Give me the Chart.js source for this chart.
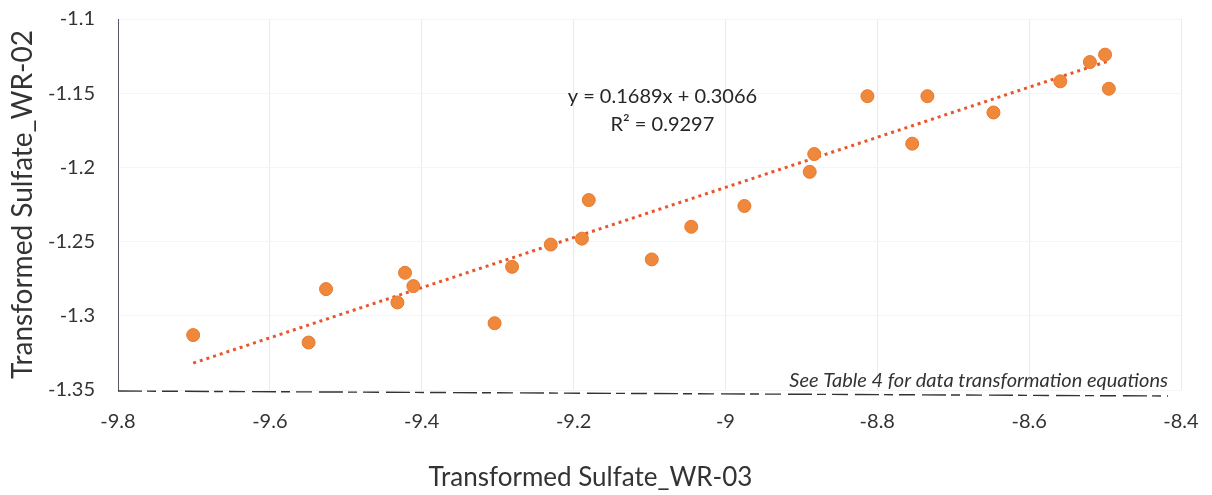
<!DOCTYPE html>
<html>
<head>
<meta charset="utf-8">
<script src="https://cdn.jsdelivr.net/npm/chart.js@4.4.1/dist/chart.umd.min.js"></script>
<style>
  html, body { margin: 0; padding: 0; background: #fff; }
  #wrap { width: 1212px; height: 495px; }
</style>
</head>
<body>
<div id="wrap"><canvas id="chart" width="1212" height="495"></canvas></div>
<script>
// Transformed sulfate, WR-03 (x) vs WR-02 (y)
const xValues = [-9.701, -9.549, -9.526, -9.432, -9.422, -9.411, -9.304, -9.281, -9.230, -9.189, -9.180, -9.097,
  -9.045, -8.975, -8.889, -8.883, -8.813, -8.754, -8.734, -8.647, -8.559, -8.520, -8.500, -8.495];
const yValues = [-1.313, -1.318, -1.282, -1.291, -1.271, -1.280, -1.305, -1.267, -1.252, -1.248, -1.222, -1.262,
  -1.240, -1.226, -1.203, -1.191, -1.152, -1.184, -1.152, -1.163, -1.142, -1.129, -1.124, -1.147];

// linear trendline reported on the chart
const slope = 0.1689;
const intercept = 0.3066;
const equationLines = ["y = 0.1689x + 0.3066", "R\u00b2 = 0.9297"];
const footnote = "See Table 4 for data transformation equations";

const xTitle = "Transformed Sulfate_WR-03";
const yTitle = "Transformed Sulfate_WR-02";

const points = xValues.map((x, i) => ({ x: x, y: yValues[i] }));
const xMin = Math.min(...xValues);
const xMax = Math.max(...xValues);
const trend = [
  { x: xMin, y: slope * xMin + intercept },
  { x: xMax, y: slope * xMax + intercept }
];

const fmt = (v) => String(Number(v.toFixed(2)));
const FONT = 'Lato, "Open Sans", sans-serif';

// dashed bottom axis, equation, footnote and x title (sits left of the plot centre)
const labelsPlugin = {
  id: 'labels',
  beforeDatasetsDraw(chart) {
    const ctx = chart.ctx;
    const area = chart.chartArea;
    ctx.save();
    ctx.strokeStyle = '#333';
    ctx.lineWidth = 1.4;
    ctx.setLineDash([24, 5, 9, 6, 16, 7]);
    ctx.beginPath();
    ctx.moveTo(area.left, area.bottom + 1);
    ctx.lineTo(area.right - 13, area.bottom + 6);
    ctx.stroke();
    ctx.restore();
  },
  afterDatasetsDraw(chart) {
    const ctx = chart.ctx;
    const xs = chart.scales.x;
    const ys = chart.scales.y;
    const area = chart.chartArea;
    ctx.save();
    ctx.fillStyle = '#262626';
    ctx.font = '20px ' + FONT;
    ctx.textAlign = 'center';
    ctx.textBaseline = 'middle';
    const cx = xs.getPixelForValue(-9.083);
    ctx.fillText(equationLines[0], cx, ys.getPixelForValue(-1.152));
    ctx.fillText(equationLines[1], cx, ys.getPixelForValue(-1.171));

    ctx.font = 'italic 20px ' + FONT;
    ctx.textAlign = 'right';
    ctx.textBaseline = 'alphabetic';
    ctx.fillStyle = '#333';
    ctx.fillText(footnote, area.right - 13, area.bottom - 3);

    ctx.font = '26px ' + FONT;
    ctx.textAlign = 'center';
    ctx.textBaseline = 'middle';
    ctx.fillText(xTitle, area.right / 2, chart.height - 17);
    ctx.restore();
  }
};

new Chart(document.getElementById('chart'), {
  type: 'scatter',
  data: {
    datasets: [
      {
        label: 'Trend',
        type: 'line',
        data: trend,
        borderColor: '#E8562A',
        borderWidth: 3,
        borderDash: [3, 4],
        pointRadius: 0,
        fill: false,
        order: 2
      },
      {
        label: 'Samples',
        data: points,
        backgroundColor: '#F0883C',
        borderColor: '#E57A30',
        borderWidth: 1,
        pointRadius: 6.5,
        order: 1
      }
    ]
  },
  plugins: [labelsPlugin],
  options: {
    responsive: false,
    animation: false,
    layout: { padding: { left: 0, right: 31, top: 19, bottom: 0 } },
    plugins: {
      legend: { display: false },
      tooltip: { enabled: false }
    },
    scales: {
      x: {
        type: 'linear',
        min: -9.8,
        max: -8.4,
        ticks: {
          stepSize: 0.2,
          padding: 20,
          color: '#333',
          font: { family: FONT, size: 20 },
          callback: (v) => fmt(v)
        },
        grid: { color: '#e9ebf1', lineWidth: 1, drawTicks: false },
        border: { display: false },
        title: { display: false, text: xTitle },
        afterFit: (scale) => {
          scale.height = 105;
          scale.paddingLeft = 0;
          scale.paddingRight = 0;
        }
      },
      y: {
        type: 'linear',
        min: -1.35,
        max: -1.1,
        ticks: {
          stepSize: 0.05,
          padding: 23,
          color: '#333',
          font: { family: FONT, size: 20 },
          callback: (v) => fmt(v)
        },
        grid: { color: '#f5f5f7', lineWidth: 1, drawTicks: false },
        border: { display: true, color: '#555a66', width: 1 },
        title: {
          display: true,
          text: yTitle,
          color: '#333',
          font: { family: FONT, size: 28 },
          padding: { top: 6, bottom: 0 }
        },
        afterFit: (scale) => {
          scale.width = 118;
          scale.paddingTop = 0;
          scale.paddingBottom = 0;
        }
      }
    }
  }
});
</script>
</body>
</html>
